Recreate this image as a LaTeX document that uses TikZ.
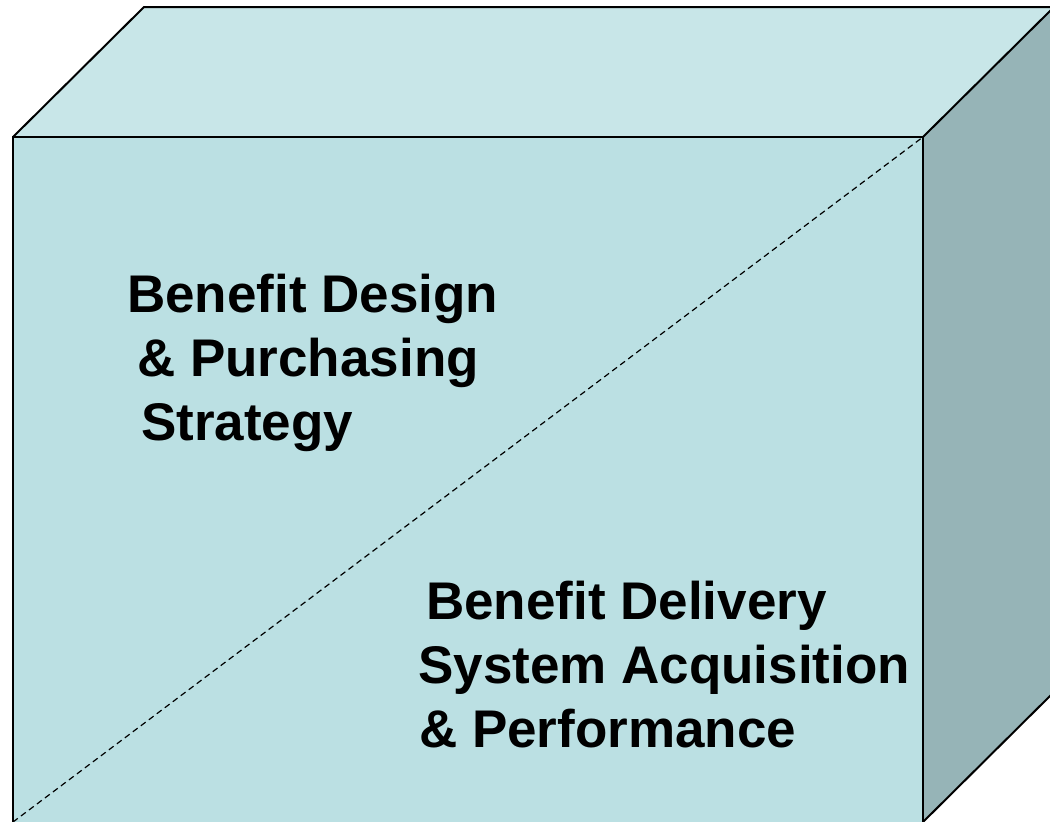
\documentclass[tikz,border=0pt]{standalone}
\usepackage{fontspec}
\setmainfont{Liberation Sans}
\definecolor{topface}{RGB}{200,230,232}
\definecolor{frontface}{RGB}{187,224,227}
\definecolor{sideface}{RGB}{150,180,183}
\begin{document}
\begin{tikzpicture}[x=1pt,y=-1pt,
  edge/.style={draw=black,line width=2pt,line join=miter},
  lbl/.style={anchor=base west,inner sep=0pt,font=\fontsize{53}{64}\selectfont\bfseries}]
\useasboundingbox (0,0) rectangle (1050,822);
\clip (0,0) rectangle (1050,822);
% vertices
\coordinate (fa) at (13,137);
\coordinate (fb) at (923,137);
\coordinate (fc) at (923,822);
\coordinate (fd) at (13,822);
\coordinate (ba) at (144,7);
\coordinate (bb) at (1054,7);
\coordinate (bc) at (1054,692);
% faces
\fill[topface] (fa) -- (ba) -- (bb) -- (fb) -- cycle;
\fill[sideface] (fb) -- (bb) -- (bc) -- (fc) -- cycle;
\fill[frontface] (fa) -- (fb) -- (fc) -- (fd) -- cycle;
\draw[edge] (fd) -- (fa) -- (fb) -- (fc);
\draw[edge] (fa) -- (ba) -- (bb);
\draw[edge] (fb) -- (bb);
\draw[edge] (fc) -- (bc);
\draw[black,line width=1.2pt,dash pattern=on 6pt off 4pt] (fd) -- (fb);
% labels
\node[lbl] (a1) at (127,312) {Benefit Design};
\node[lbl] (a2) at (137,376) {\& Purchasing};
\node[lbl] (a3) at (141,440) {Strategy};
\node[lbl] (b1) at (426,619) {Benefit Delivery};
\node[lbl] (b2) at (418,683) {System Acquisition};
\node[lbl] (b3) at (419,747) {\& Performance};
\end{tikzpicture}
\end{document}
